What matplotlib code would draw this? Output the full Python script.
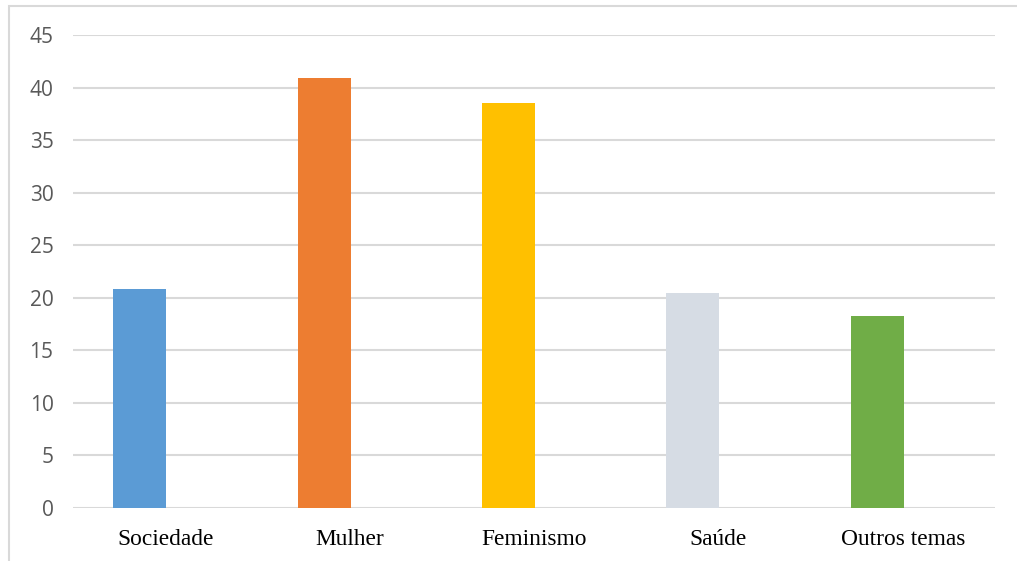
import matplotlib
matplotlib.use("Agg")
import matplotlib.pyplot as plt
from matplotlib.patches import Rectangle
import numpy as np

categories = ["Sociedade", "Mulher", "Feminismo", "Saúde", "Outros temas"]
values = [20.8, 40.9, 38.5, 20.5, 18.3]
colors = ["#5B9BD5", "#ED7D31", "#FFC000", "#D6DCE4", "#70AD47"]
yticks = [0, 5, 10, 15, 20, 25, 30, 35, 40, 45]

W, H = 1017, 561
fig = plt.figure(figsize=(W / 100, H / 100), dpi=100)
ax = fig.add_axes([73 / W, 1 - 508 / H, (995 - 73) / W, (508 - 35) / H])

x = np.arange(len(categories))
ax.bar(x - 0.138, values, width=0.287, color=colors, zorder=3)

ax.set_xlim(-0.5, len(categories) - 0.5)
ax.set_ylim(0, 45)
ax.set_yticks(yticks)
ax.set_yticklabels([str(t) for t in yticks], fontfamily="Open Sans", fontsize=15, color="#595959")
ax.set_xticks(x)
ax.set_xticklabels(categories, fontfamily="Liberation Serif", fontsize=16.8, color="black")
ax.tick_params(axis="both", length=0)
ax.tick_params(axis="y", pad=14)
ax.tick_params(axis="x", pad=15)
ax.grid(axis="y", color="#D9D9D9", linewidth=1.5, zorder=0)
for s in ax.spines.values():
    s.set_visible(False)

fig.patches.append(Rectangle((9 / W, -0.1), 1.2, 1 - 6 / H + 0.1, transform=fig.transFigure,
                             fill=False, edgecolor="#D9D9D9", linewidth=1.5))

fig.savefig("out.png", dpi=100)
